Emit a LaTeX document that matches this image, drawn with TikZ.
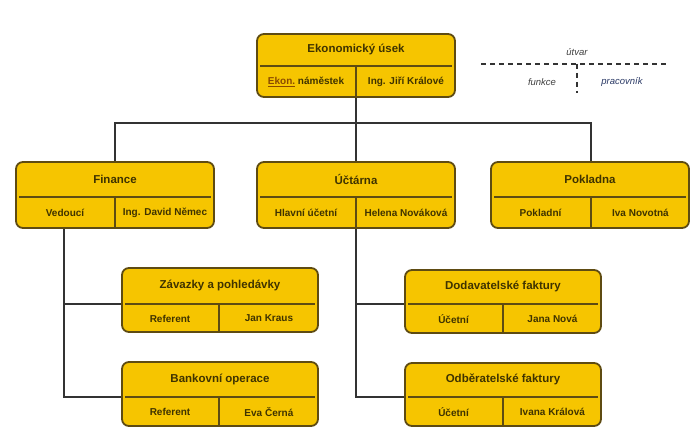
\documentclass[tikz,border=0pt]{standalone}
\usepackage{fontspec}
\setmainfont{Liberation Sans}
\usetikzlibrary{fit,calc,backgrounds}
\definecolor{unitfill}{HTML}{F6C500}
\definecolor{unitedge}{HTML}{5E4B12}
\definecolor{unittext}{HTML}{3F3300}
\definecolor{linkcol}{HTML}{8A4A00}
\definecolor{wirecol}{HTML}{333333}
\definecolor{staffcol}{HTML}{2B3A66}

% unit box: name, x1, y1, x2, y2, divider y, divider x
\newcommand\unitbox[7]{%
  \node[unit, fit={(#2,#3) (#4,#5)}] (#1) {};
  \coordinate (#1-v) at (#7,#6);
  \coordinate (#1-h) at ({(#2+#4)/2},#6);
  \draw[divider] (#2+3,#6) -- (#4-3,#6);
  \draw[divider] (#7,#6) -- (#7,#5);
}
% unit texts: name, title, function, person
\newcommand\unitlabels[4]{%
  \node[titletext] (#1-title) at ($(#1.north)!0.5!(#1-h)$) {#2};
  \node[fieldtext] (#1-left) at ($(#1.south west)!0.5!(#1-v)$) {#3};
  \node[fieldtext] (#1-right) at ($(#1.south east)!0.5!(#1-v)$) {#4};
}

\begin{document}
\begin{tikzpicture}[x=1pt,y=-1pt,
  unit/.style={draw=unitedge, line width=1.8pt, fill=unitfill, rounded corners=7pt, inner sep=0pt},
  divider/.style={draw=unitedge, line width=1.6pt},
  wire/.style={draw=wirecol, line width=1.3pt},
  titletext/.style={font=\bfseries\fontsize{11.5}{13}\selectfont, text=unittext, inner sep=0pt},
  fieldtext/.style={font=\bfseries\fontsize{10}{12}\selectfont, text=unittext, inner sep=0pt},
  legendtext/.style={font=\itshape\fontsize{9.5}{11}\selectfont, text=black!75, inner sep=0pt},
  legendline/.style={draw=black!80, line width=1.2pt, dash pattern=on 5pt off 4pt}]

\useasboundingbox (0,0) rectangle (699,441);

% units
\unitbox{eko}{257}{34}{455}{97}{66}{356}
\unitlabels{eko}{Ekonomický úsek}{\textcolor{linkcol}{\underline{Ekon.}} náměstek}{Ing. Jiří Králové}

\unitbox{fin}{16}{162}{214}{228}{197}{115}
\unitlabels{fin}{Finance}{Vedoucí}{Ing. David Němec}

\unitbox{uct}{257}{162}{455}{228}{197}{356}
\unitlabels{uct}{Účtárna}{Hlavní účetní}{Helena Nováková}

\unitbox{pok}{491}{162}{689}{228}{197}{591}
\unitlabels{pok}{Pokladna}{Pokladní}{Iva Novotná}

\unitbox{zav}{122}{268}{318}{332}{304}{219}
\unitlabels{zav}{Závazky a pohledávky}{Referent}{Jan Kraus}

\unitbox{ban}{122}{362}{318}{426}{397}{219}
\unitlabels{ban}{Bankovní operace}{Referent}{Eva Černá}

\unitbox{dod}{405}{270}{601}{333}{304}{503}
\unitlabels{dod}{Dodavatelské faktury}{Účetní}{Jana Nová}

\unitbox{odb}{405}{363}{601}{426}{397}{503}
\unitlabels{odb}{Odběratelské faktury}{Účetní}{Ivana Králová}

% connectors, drawn behind the units
\coordinate (bus) at (356,123);
\coordinate (findrop) at (64,0);
\begin{scope}[on background layer]
  \fill[white] (0,0) rectangle (699,441);
  \draw[wire] (fin.north -| fin-v) |- (bus) -| (pok.north -| pok-v);
  \draw[wire] (eko.south -| eko-v) -- (uct.north -| uct-v);
  \draw[wire] (fin.south -| findrop) |- (zav.west |- zav-v);
  \draw[wire] (fin.south -| findrop) |- (ban.west |- ban-v);
  \draw[wire] (uct.south -| uct-v) |- (dod.west |- dod-v);
  \draw[wire] (uct.south -| uct-v) |- (odb.west |- odb-v);
\end{scope}

% legend
\coordinate (lgL) at (481,64);
\coordinate (lgR) at (669,64);
\coordinate (lgM) at (577,64);
\coordinate (lgB) at (577,93);
\draw[legendline] (lgL) -- (lgR);
\draw[legendline] (lgM) -- (lgB);
\node[legendtext] (lg-unit) at (577,52) {útvar};
\node[legendtext] (lg-func) at (542,82) {funkce};
\node[legendtext, text=staffcol] (lg-staff) at (622,82) {pracovník};
\end{tikzpicture}
\end{document}
